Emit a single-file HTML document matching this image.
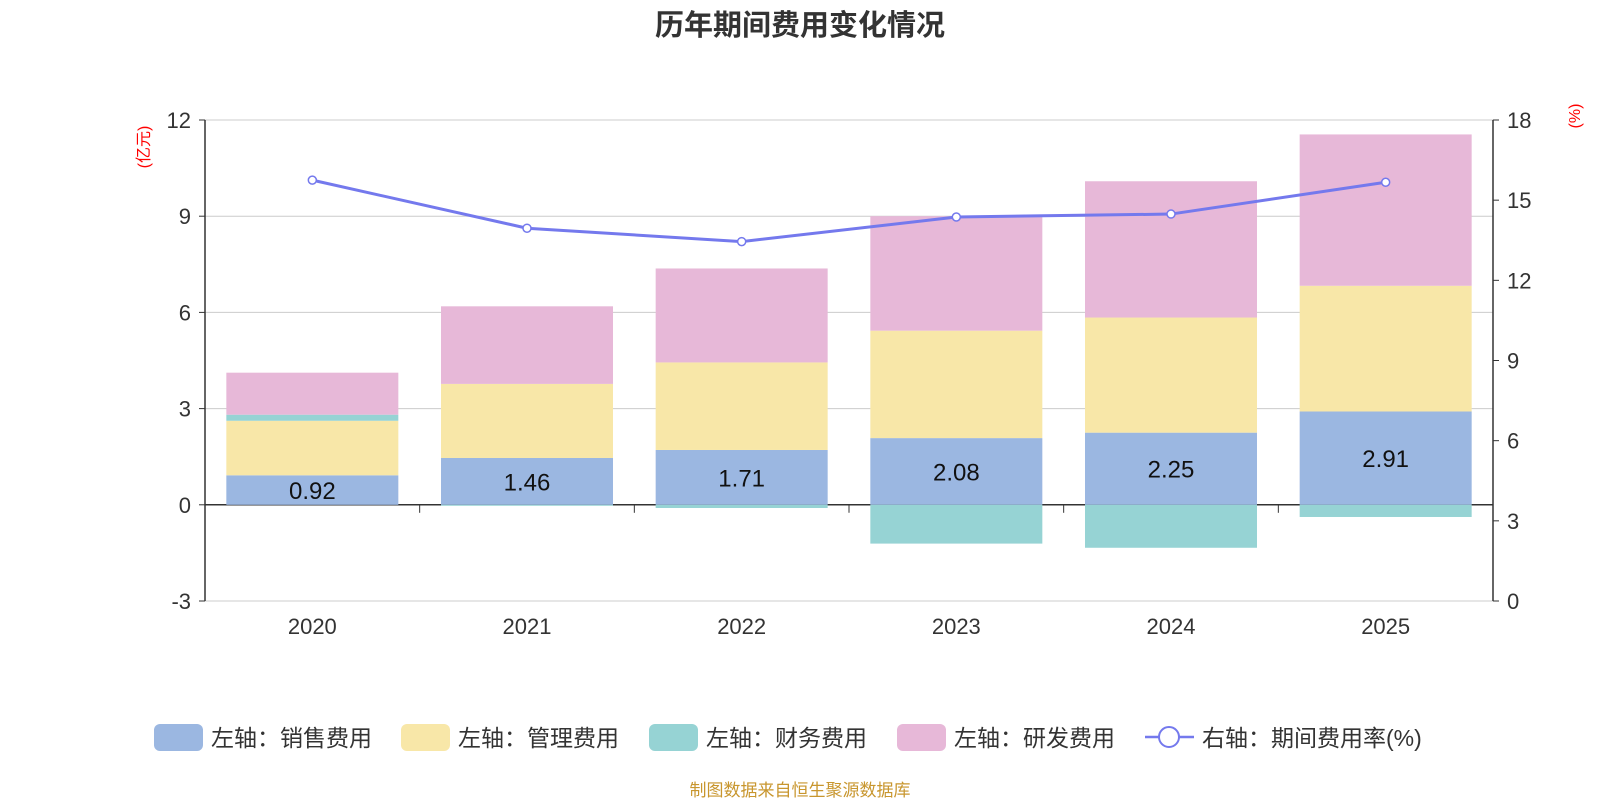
<!DOCTYPE html>
<html><head><meta charset="utf-8">
<style>
body{margin:0;background:#fff;font-family:"Liberation Sans","Noto Sans CJK SC",sans-serif;}
svg text{font-family:"Liberation Sans","Noto Sans CJK SC",sans-serif;}
</style></head>
<body>
<svg id="c" width="1600" height="800" xmlns="http://www.w3.org/2000/svg">
<text x="800" y="35" text-anchor="middle" font-size="29" font-weight="bold" fill="#333">历年期间费用变化情况</text>
<text transform="translate(149,147) rotate(-90)" text-anchor="middle" font-size="16" fill="#f00">(亿元)</text>
<text transform="translate(1580,116) rotate(-90)" text-anchor="middle" font-size="16" fill="#f00">(%)</text>
<g id="grid"></g><g id="bars"></g><g id="axes"></g><g id="line"></g>
<g font-size="23" fill="#333">
<rect x="154" y="724" width="49" height="27" rx="6" fill="#9bb7e1"/>
<text x="211" y="746">左轴：销售费用</text>
<rect x="401" y="724" width="49" height="27" rx="6" fill="#f8e7a8"/>
<text x="458" y="746">左轴：管理费用</text>
<rect x="649" y="724" width="49" height="27" rx="6" fill="#96d3d4"/>
<text x="706" y="746">左轴：财务费用</text>
<rect x="897" y="724" width="49" height="27" rx="6" fill="#e7b8d8"/>
<text x="954" y="746">左轴：研发费用</text>
<line x1="1145" y1="737" x2="1194" y2="737" stroke="#7479ed" stroke-width="2.5"/>
<circle cx="1169" cy="737" r="10" fill="#fff" stroke="#7479ed" stroke-width="2"/>
<text x="1202" y="746">右轴：期间费用率(%)</text>
</g>
<text x="800" y="796" text-anchor="middle" font-size="17" fill="#c8962e">制图数据来自恒生聚源数据库</text>
</svg>
<script>
const categories=["2020","2021","2022","2023","2024","2025"];
const sales=[0.92,1.46,1.71,2.08,2.25,2.91];
const admin=[1.70,2.31,2.73,3.35,3.59,3.92];
const finance=[0.19,-0.03,-0.1,-1.21,-1.34,-0.38];
const rd=[1.31,2.42,2.93,3.57,4.25,4.72];
const rate=[15.75,13.95,13.45,14.37,14.48,15.67];
const leftTicks=[-3,0,3,6,9,12];
const rightTicks=[0,3,6,9,12,15,18];
const NS="http://www.w3.org/2000/svg";
const X0=205,X1=1493,T=120,B=601;
const yL=v=>B-(v+3)/15*(B-T);
const yR=v=>B-v/18*(B-T);
const bw=(X1-X0)/categories.length;
const xC=i=>X0+bw*(i+0.5);
function mk(tag,attrs,parent){const e=document.createElementNS(NS,tag);for(const k in attrs)e.setAttribute(k,attrs[k]);document.getElementById(parent).appendChild(e);return e;}
leftTicks.forEach(t=>{
 const g=mk('line',{x1:X0,x2:X1,y1:yL(t),y2:yL(t),stroke:t===0?'#333':'#ccc','stroke-width':t===0?1.5:1},'grid');
 
 
 const tx=mk('text',{x:X0-14,y:yL(t)+8,'text-anchor':'end','font-size':22,fill:'#333'},'axes');tx.textContent=t;
 
 
 mk('line',{x1:X0-6,x2:X0,y1:yL(t),y2:yL(t),stroke:'#333'},'axes');
});
rightTicks.forEach(t=>{
 const tx=mk('text',{x:X1+14,y:yR(t)+8,'font-size':22,fill:'#333'},'axes');tx.textContent=t;
 
 
 mk('line',{x1:X1,x2:X1+6,y1:yR(t),y2:yR(t),stroke:'#333'},'axes');
});
mk('line',{x1:X0,x2:X0,y1:T,y2:B,stroke:'#333','stroke-width':1.5},'axes');
mk('line',{x1:X1,x2:X1,y1:T,y2:B,stroke:'#333','stroke-width':1.5},'axes');
for(let i=0;i<=categories.length;i++)mk('line',{x1:X0+bw*i,x2:X0+bw*i,y1:yL(0),y2:yL(0)+8,stroke:'#333'},'axes');
const series=[[sales,'#9bb7e1','bar-sales'],[admin,'#f8e7a8','bar-admin'],[finance,'#96d3d4','bar-finance'],[rd,'#e7b8d8','bar-rd']];
categories.forEach((c,i)=>{
 const tx=mk('text',{x:xC(i),y:634,'text-anchor':'middle','font-size':22,fill:'#333'},'axes');tx.textContent=c;
 
 
 let pos=0,neg=0;
 series.forEach(([arr,col,name])=>{
  const v=arr[i];let a,b;
  if(v>=0){a=pos;b=pos+v;pos=b;}else{a=neg;b=neg+v;neg=b;}
  const r=mk('rect',{x:xC(i)-86,width:172,y:Math.min(yL(a),yL(b)),height:Math.abs(yL(a)-yL(b)),fill:col},'bars');
  
  
 });
 const lb=mk('text',{x:xC(i),y:(yL(0)+yL(sales[i]))/2+9,'text-anchor':'middle','font-size':24,fill:'#111'},'bars');lb.textContent=sales[i].toFixed(2);
 
 
});
const pl=mk('polyline',{points:rate.map((v,i)=>xC(i)+','+yR(v)).join(' '),fill:'none',stroke:'#7479ed','stroke-width':3},'line');


rate.forEach((v,i)=>{
 const p=mk('circle',{cx:xC(i),cy:yR(v),r:4,fill:'#fff',stroke:'#7479ed','stroke-width':1.5},'line');
 
 
});
</script>
</body></html>
